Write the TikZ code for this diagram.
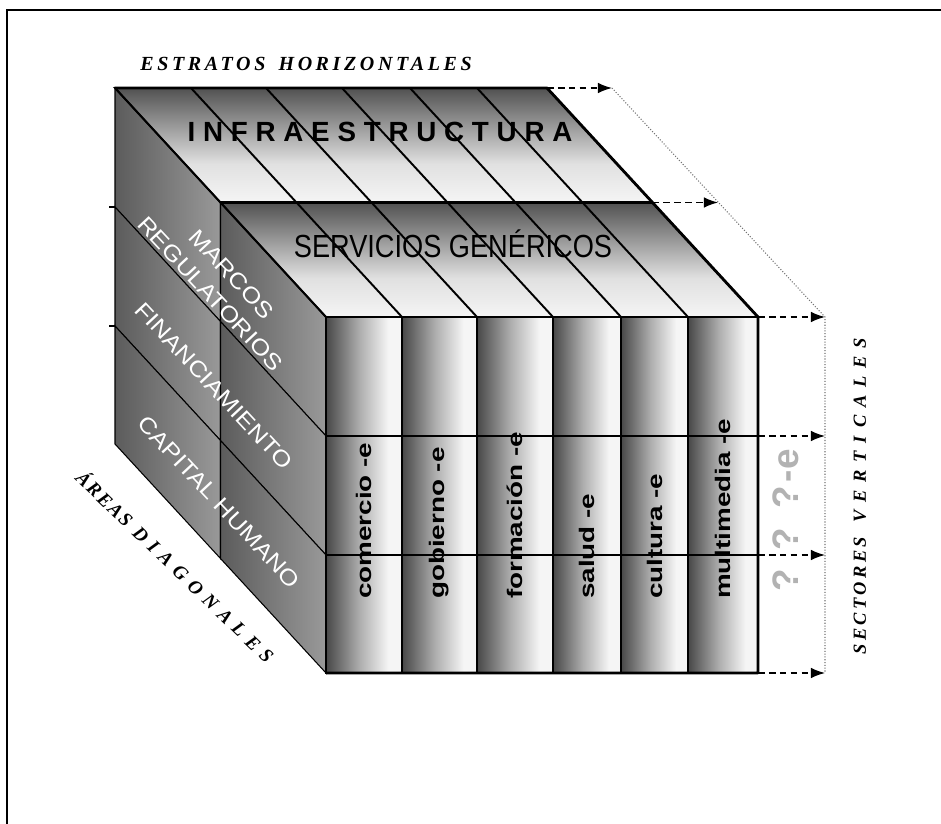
\documentclass[tikz,border=0pt]{standalone}
\usepackage{fontspec}
\setmainfont{Liberation Serif}
\setsansfont{Liberation Sans}
\usetikzlibrary{arrows.meta}
\newfontfamily\stratafont{Liberation Sans}[LetterSpace=28]
\newfontfamily\genfont{Liberation Sans}[FakeStretch=0.85]
\newfontfamily\sectorfont{Liberation Sans}[FakeStretch=1.32]
\newfontfamily\areafont{Liberation Sans}[FakeStretch=1.15]
\newfontfamily\axisfont{Liberation Serif}
\pgfdeclarehorizontalshading{columnshade}{100bp}{color(0bp)=(black!72); color(25bp)=(black!72); color(47bp)=(black!32); color(66bp)=(white!96!black); color(100bp)=(white!96!black)}
\pgfdeclareverticalshading{stratumshade}{100bp}{color(0bp)=(white!96!black); color(25bp)=(white!96!black); color(42bp)=(white!88!black); color(75bp)=(black!68); color(100bp)=(black!68)}
\tikzset{
	colbox/.style={draw, line width=1.1pt, shade, shading=columnshade},
	stratumbox/.style={draw, line width=1pt, shade, shading=stratumshade},
	sidebox/.style={draw, line width=0.6pt, left color=black!64, right color=black!40},
	guidearrow/.style={dash pattern=on 3.8pt off 2.4pt, line width=0.8pt, -{Latex[length=8pt,width=6pt]}},
	axislabel/.style={font=\axisfont\bfseries\itshape},
	sectorlabel/.style={font=\sectorfont\fontsize{12}{14}\selectfont\bfseries, rotate=90, anchor=west, inner sep=1pt},
	arealabel/.style={text=white, rotate=-47, font=\areafont\fontsize{12.7}{16.4}\selectfont, align=center}
}

\begin{document}
\begin{tikzpicture}[x=0.02cm, y=-0.02cm]
		%%%%% START %%%%%
		\useasboundingbox (0,0) rectangle (941,824);
		\draw[line width=1.1pt] (7,824) -- (7,10) -- (941,10);
		
		% left face
		\draw[sidebox] (115,88) -- (220.5,202.5) -- (220.5,321.5) -- (115,207) -- cycle;
		\draw[sidebox] (115,207) -- (220.5,321.5) -- (220.5,440.5) -- (115,326) -- cycle;
		\draw[sidebox] (115,326) -- (220.5,440.5) -- (220.5,558.5) -- (115,444) -- cycle;
		\draw[sidebox] (220.5,202.5) -- (326,317) -- (326,436) -- (220.5,321.5) -- cycle;
		\draw[sidebox] (220.5,321.5) -- (326,436) -- (326,555) -- (220.5,440.5) -- cycle;
		\draw[sidebox] (220.5,440.5) -- (326,555) -- (326,673) -- (220.5,558.5) -- cycle;
		\draw[line width=0.6pt] (109,207) -- (115,207);
		\draw[line width=0.6pt] (109,326) -- (115,326);
		
		% top face
		\draw[stratumbox] (115,88) -- (547,88) -- (652.5,202.5) -- (220.5,202.5) -- cycle;
		\draw[stratumbox] (220.5,202.5) -- (652.5,202.5) -- (758,317) -- (326,317) -- cycle;
		
		% front face
		\draw[colbox] (326,317) rectangle (402,673);
		\draw[colbox] (402,317) rectangle (477,673);
		\draw[colbox] (477,317) rectangle (553,673);
		\draw[colbox] (553,317) rectangle (621,673);
		\draw[colbox] (621,317) rectangle (688,673);
		\draw[colbox] (688,317) rectangle (758,673);
		\draw[line width=0.8pt] (326,436) -- (758,436);
		\draw[line width=0.8pt] (326,555) -- (758,555);
		
		\draw[line width=1.1pt] (326,317) -- (115,88);
		\draw[line width=1.1pt] (402,317) -- (191,88);
		\draw[line width=1.1pt] (477,317) -- (266,88);
		\draw[line width=1.1pt] (553,317) -- (342,88);
		\draw[line width=1.1pt] (621,317) -- (410,88);
		\draw[line width=1.1pt] (688,317) -- (477,88);
		\draw[line width=1.2pt] (220.5,202.5) -- (652.5,202.5);
		\draw[line width=1.2pt] (326,317) -- (758,317);
		\draw[line width=1.6pt, line join=round] (115,88) -- (547,88) -- (758,317) -- (758,673) -- (326,673);
		
		% guides
		\draw[guidearrow] (547,88) -- (612,88);
		\draw[guidearrow] (652.5,202.5) -- (718,202.5);
		\draw[guidearrow] (758,317) -- (825,317);
		\draw[guidearrow] (758,436) -- (825,436);
		\draw[guidearrow] (758,555) -- (825,555);
		\draw[guidearrow] (758,673) -- (825,673);
		\draw[densely dotted, black!55, line width=0.6pt] (612,88) -- (825,317) -- (825,673);
		
		% labels
		\node[axislabel, anchor=base west, inner sep=0pt, font=\axisfont\bfseries\itshape\fontsize{11.4}{13}\selectfont] (estratos) at (140,71)
			{\addfontfeatures{LetterSpace=18}ESTRATOS\hspace{7.5pt}HO\kern2pt RIZONTALES};
		\node[font=\stratafont\bfseries\fontsize{15.8}{18}\selectfont] (infra) at (380,132) {INFRAESTRUCTURA};
		\node[font=\genfont\fontsize{18.2}{20}\selectfont] (servicios) at (453,243.5) {SERVICIOS GENÉRICOS};
		
		\node[arealabel] (marcos) at (221,284) {MARCOS\\REGULATORIOS};
		\node[arealabel] (financiamiento) at (214,386) {FINANCIAMIENTO};
		\node[arealabel] (capital) at (219,502) {CAPITAL HUMANO};
		
		\node[sectorlabel] (comercio) at (364,601) {comercio -e};
		\node[sectorlabel] (gobierno) at (439.5,601) {gobierno -e};
		\node[sectorlabel] (formacion) at (515,601) {formación -e};
		\node[sectorlabel] (salud) at (587,601) {salud -e};
		\node[sectorlabel] (cultura) at (654.5,601) {cultura -e};
		\node[sectorlabel] (multimedia) at (723,601) {multimedia -e};
		\node[rotate=90, anchor=west, inner sep=1pt, text=black!30, font=\sffamily\bfseries\fontsize{21}{23}\selectfont] (otros) at (786,594)
			{?\hspace{11pt}?\hspace{11pt}?\hspace{2pt}-e};
		
		\node[axislabel, rotate=90, font=\axisfont\bfseries\itshape\fontsize{10.5}{12}\selectfont] (sectores) at (860,496)
			{{\addfontfeatures{LetterSpace=18}SECTORES}\hspace{8pt}{\addfontfeatures{LetterSpace=43}VERTICALES}};
		\node[axislabel, rotate=-44, font=\axisfont\bfseries\itshape\fontsize{11}{13}\selectfont] (areas) at (176,566)
			{{\addfontfeatures{LetterSpace=10}ÁREAS}\hspace{5pt}{\addfontfeatures{LetterSpace=36}DIAGONALES}};
		%%%%% END %%%%%
	\end{tikzpicture}
\end{document}
